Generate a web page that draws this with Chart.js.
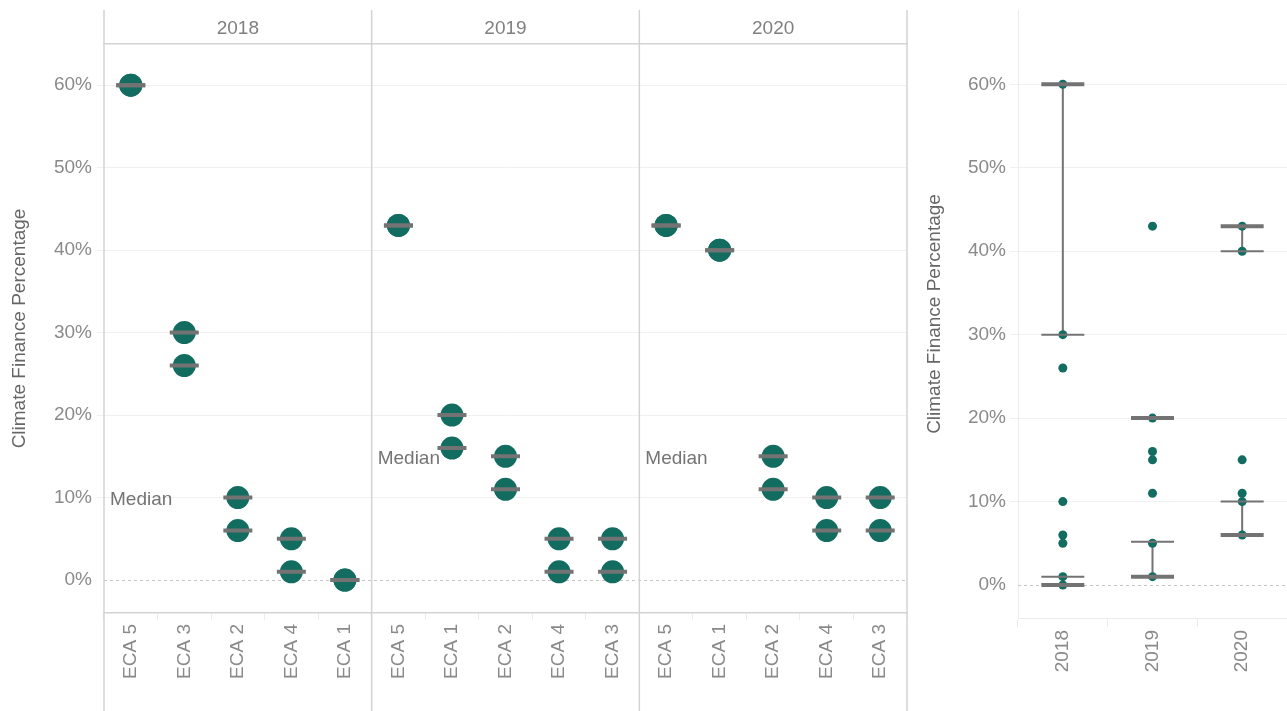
<!DOCTYPE html>
<html>
<head>
<meta charset="utf-8">
<script src="https://cdn.jsdelivr.net/npm/chart.js@4.4.1/dist/chart.umd.min.js"></script>
<style>
    html, body { margin: 0; padding: 0; background: #fff; }
    #wrap { position: relative; width: 1287px; height: 711px; }
    #facetChart { position: absolute; left: 0; top: 0; }
    #summaryChart { position: absolute; left: 910px; top: 0; }
</style>
</head>
<body>
<div id="wrap">
    <canvas id="facetChart" width="910" height="711"></canvas>
    <canvas id="summaryChart" width="377" height="711"></canvas>
</div>
<script>

/* =========================
   DATA
========================= */

const years = ["2018", "2019", "2020"];

const ecaLabels = [
    "ECA 5", "ECA 3", "ECA 2", "ECA 4", "ECA 1",
    "ECA 5", "ECA 1", "ECA 2", "ECA 4", "ECA 3",
    "ECA 5", "ECA 1", "ECA 2", "ECA 4", "ECA 3"
];

const upperValues = [60, 30, 10, 5, 0, 43, 20, 15, 5, 5, 43, 40, 15, 10, 10];
const lowerValues = [60, 26, 6, 1, 0, 43, 16, 11, 1, 1, 43, 40, 11, 6, 6];

const medianLabelValues = [9.7, 14.7, 14.7];

const percentTicks = [0, 10, 20, 30, 40, 50, 60];

const dots2018 = [60, 30, 26, 10, 6, 5, 1, 0];
const dots2019 = [43, 20, 16, 15, 11, 5, 1];
const dots2020 = [43, 40, 15, 11, 10, 6];

const thickCapYears = ["2018", "2018", "2019", "2019", "2020", "2020"];
const thickCapValues = [60, 0, 20, 1, 43, 6];

const thinCapYears = ["2018", "2018", "2019", "2020", "2020"];
const thinCapValues = [30, 1, 5.2, 40, 10];

const whiskerYears = ["2018", "2018", "2019", "2020", "2020"];
const whiskerLow = [30, 0, 1, 40, 6];
const whiskerHigh = [60, 1, 5.2, 43, 10];

/* =========================
   STYLE
========================= */

const FONT = '"Liberation Sans", Arial, Helvetica, sans-serif';
const TEAL = "#136c60";
const DASH_GREY = "#737373";
const TICK_GREY = "#8a8a8a";
const FRAME_GREY = "#d3d3d3";
const GRID_GREY = "#f0f0f0";

Chart.defaults.font.family = FONT;
Chart.defaults.font.size = 19;
Chart.defaults.color = TICK_GREY;

function percentAxisTicks(scale) {
    scale.ticks = percentTicks.map(v => ({ value: v }));
}

function gridColor(ctx) {
    return ctx.tick && ctx.tick.value === 0 ? "rgba(0,0,0,0)" : GRID_GREY;
}

// keep chart area edges where the reference has them
function noScalePadding(scale) {
    scale.paddingLeft = 0;
    scale.paddingRight = 0;
    scale.paddingTop = 0;
    scale.paddingBottom = 0;
}

function drawZeroLine(chart) {
    const { ctx, chartArea } = chart;
    const y0 = Math.round(chart.scales.y.getPixelForValue(0)) + 0.5;
    ctx.save();
    ctx.strokeStyle = "#c6c6c6";
    ctx.lineWidth = 1;
    ctx.setLineDash([3, 3]);
    ctx.beginPath();
    ctx.moveTo(chartArea.left, y0);
    ctx.lineTo(chartArea.right, y0);
    ctx.stroke();
    ctx.restore();
}

/* =========================
   FACET CHART (LEFT)
========================= */

const facetFrame = {
    id: "facetFrame",
    beforeDatasetsDraw(chart) {
        const { ctx } = chart;
        const x = chart.scales.x;
        const y = chart.scales.y;
        const top = chart.scales.xTop.top;
        const step = x.getPixelForValue(1) - x.getPixelForValue(0);
        const perFacet = ecaLabels.length / years.length;

        drawZeroLine(chart);

        ctx.save();
        ctx.strokeStyle = FRAME_GREY;
        ctx.lineWidth = 1.5;
        for (let i = 0; i <= years.length; i++) {
            const px = x.getPixelForValue(i * perFacet) - step / 2;
            ctx.beginPath();
            ctx.moveTo(px, top);
            ctx.lineTo(px, chart.height);
            ctx.stroke();
        }

        ctx.font = "19px " + FONT;
        ctx.fillStyle = "#747474";
        ctx.textAlign = "left";
        ctx.textBaseline = "middle";
        medianLabelValues.forEach((v, i) => {
            const px = x.getPixelForValue(i * perFacet) - step / 2 + 6;
            ctx.fillText("Median", px, y.getPixelForValue(v));
        });
        ctx.restore();
    }
};

function createFacetChart() {
    const ctx = document.getElementById("facetChart");

    new Chart(ctx, {
        type: "line",
        data: {
            labels: ecaLabels,
            datasets: [
                {
                    data: upperValues, xAxisID: "x", showLine: false, order: 0,
                    pointStyle: "line", pointRadius: 14.5,
                    borderColor: DASH_GREY, borderWidth: 4
                },
                {
                    data: lowerValues, xAxisID: "x", showLine: false, order: 0,
                    pointStyle: "line", pointRadius: 14.5,
                    borderColor: DASH_GREY, borderWidth: 4
                },
                {
                    data: upperValues, xAxisID: "x", showLine: false, order: 1,
                    pointRadius: 11.5, pointBorderWidth: 0,
                    pointBackgroundColor: TEAL, borderColor: TEAL
                },
                {
                    data: lowerValues, xAxisID: "x", showLine: false, order: 1,
                    pointRadius: 11.5, pointBorderWidth: 0,
                    pointBackgroundColor: TEAL, borderColor: TEAL
                }
            ]
        },
        options: {
            responsive: false,
            animation: false,
            events: [],
            layout: {
                autoPadding: false,
                padding: { top: 10, right: 3, left: 0, bottom: 0 }
            },
            plugins: { legend: { display: false }, tooltip: { enabled: false } },
            scales: {
                x: {
                    type: "category",
                    position: "bottom",
                    offset: true,
                    afterFit: s => { s.height = 98; noScalePadding(s); },
                    grid: {
                        offset: true, drawOnChartArea: false,
                        tickLength: 7, color: "#ececec"
                    },
                    border: { color: FRAME_GREY, width: 1.5 },
                    ticks: {
                        autoSkip: false, minRotation: 90, maxRotation: 90,
                        padding: 4, color: TICK_GREY
                    }
                },
                xTop: {
                    type: "category",
                    position: "top",
                    labels: years,
                    offset: true,
                    afterFit: s => { s.height = 34; noScalePadding(s); },
                    grid: { drawTicks: false, color: "rgba(0,0,0,0)" },
                    border: { color: FRAME_GREY, width: 1.5 },
                    ticks: { padding: 4, color: "#808080" }
                },
                y: {
                    min: -4,
                    max: 65,
                    afterBuildTicks: percentAxisTicks,
                    afterFit: s => { s.width = 104; noScalePadding(s); },
                    grid: { color: gridColor, tickLength: 7 },
                    border: { display: false },
                    ticks: { padding: 5, color: TICK_GREY, callback: v => v + "%" },
                    title: {
                        display: true,
                        text: "Climate Finance Percentage",
                        color: "#666666",
                        padding: { top: 8, bottom: 0 }
                    }
                }
            }
        },
        plugins: [facetFrame]
    });
}

/* =========================
   SUMMARY CHART (RIGHT)
========================= */

function toPoints(yearList, values) {
    return values.map((v, i) => ({ x: yearList[i], y: v }));
}

function createSummaryChart() {
    const ctx = document.getElementById("summaryChart");

    const dotPoints = []
        .concat(dots2018.map(v => ({ x: years[0], y: v })))
        .concat(dots2019.map(v => ({ x: years[1], y: v })))
        .concat(dots2020.map(v => ({ x: years[2], y: v })));

    const whiskerPoints = [];
    whiskerYears.forEach((yr, i) => {
        whiskerPoints.push({ x: yr, y: whiskerLow[i] });
        whiskerPoints.push({ x: yr, y: whiskerHigh[i] });
        whiskerPoints.push({ x: yr, y: null });
    });

    new Chart(ctx, {
        type: "line",
        data: {
            datasets: [
                {
                    data: whiskerPoints, order: 2, spanGaps: false,
                    borderColor: DASH_GREY, borderWidth: 2, pointRadius: 0
                },
                {
                    data: dotPoints, order: 1, showLine: false,
                    pointRadius: 4.5, pointBorderWidth: 0,
                    pointBackgroundColor: TEAL, borderColor: TEAL
                },
                {
                    data: toPoints(thickCapYears, thickCapValues), order: 0, showLine: false,
                    pointStyle: "line", pointRadius: 21.5,
                    borderColor: DASH_GREY, borderWidth: 4
                },
                {
                    data: toPoints(thinCapYears, thinCapValues), order: 0, showLine: false,
                    pointStyle: "line", pointRadius: 21.5,
                    borderColor: DASH_GREY, borderWidth: 2
                }
            ]
        },
        options: {
            responsive: false,
            animation: false,
            events: [],
            layout: {
                autoPadding: false,
                padding: { top: 10, right: 0, left: 0, bottom: 0 }
            },
            plugins: { legend: { display: false }, tooltip: { enabled: false } },
            scales: {
                x: {
                    type: "category",
                    labels: years,
                    offset: true,
                    afterFit: s => { s.height = 93; noScalePadding(s); },
                    grid: {
                        offset: true, drawOnChartArea: false,
                        tickLength: 9, color: "#ebebeb"
                    },
                    border: { color: "#ebebeb" },
                    ticks: {
                        autoSkip: false, minRotation: 90, maxRotation: 90,
                        padding: 3, color: TICK_GREY
                    }
                },
                y: {
                    min: -3.95,
                    max: 68.9,
                    afterBuildTicks: percentAxisTicks,
                    afterFit: s => { s.width = 108; noScalePadding(s); },
                    grid: { color: gridColor, tickLength: 8 },
                    border: { color: "#ebebeb" },
                    ticks: { padding: 4, color: TICK_GREY, callback: v => v + "%" },
                    title: {
                        display: true,
                        text: "Climate Finance Percentage",
                        color: "#666666",
                        padding: { top: 13, bottom: 0 }
                    }
                }
            }
        },
        plugins: [{ id: "zeroLine", beforeDatasetsDraw: drawZeroLine }]
    });
}

createFacetChart();
createSummaryChart();

</script>
</body>
</html>
